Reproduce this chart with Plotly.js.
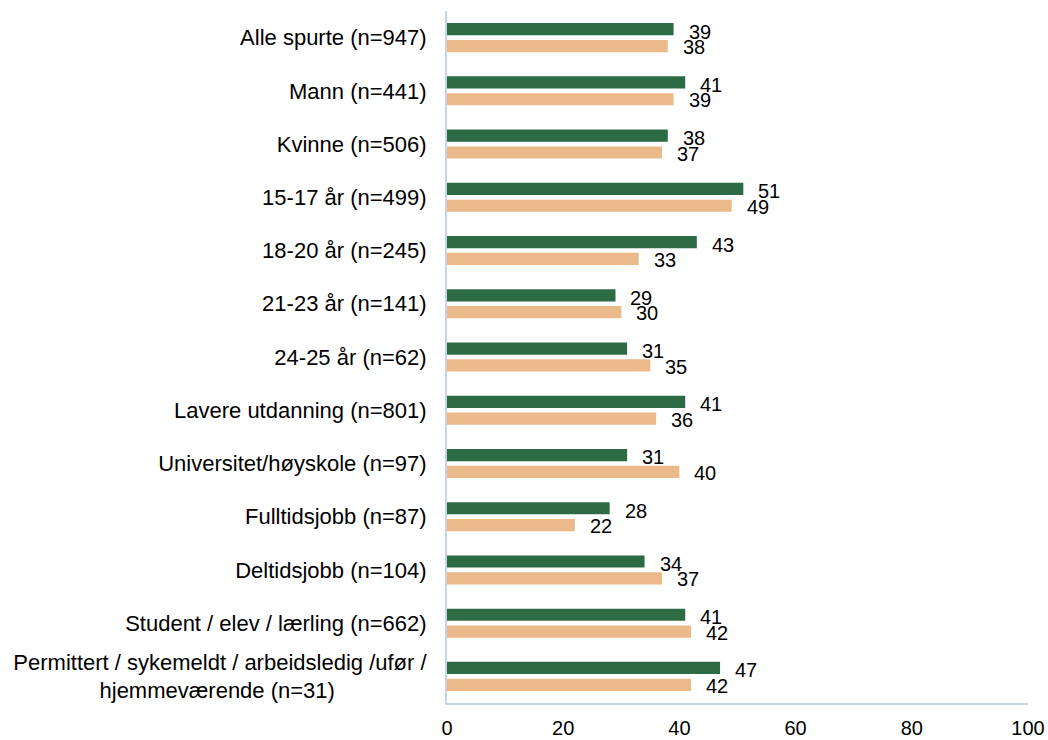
<!DOCTYPE html>
<html>
<head>
<meta charset="utf-8">
<script src="https://cdn.plot.ly/plotly-3.0.1.min.js"></script>
<style>html,body{margin:0;padding:0;background:#fff;}#chart{width:1048px;height:740px;}</style>
</head>
<body>
<div id="chart"></div>
<script>
const categories = [
  "Alle spurte (n=947)",
  "Mann (n=441)",
  "Kvinne (n=506)",
  "15-17 år (n=499)",
  "18-20 år (n=245)",
  "21-23 år (n=141)",
  "24-25 år (n=62)",
  "Lavere utdanning (n=801)",
  "Universitet/høyskole (n=97)",
  "Fulltidsjobb (n=87)",
  "Deltidsjobb (n=104)",
  "Student / elev / lærling (n=662)",
  "Permittert / sykemeldt / arbeidsledig /ufør /<br>hjemmeværende (n=31)" + "\u00A0".repeat(15)
];
const seriesGreen = [39, 41, 38, 51, 43, 29, 31, 41, 31, 28, 34, 41, 47];
const seriesTan   = [38, 39, 37, 49, 33, 30, 35, 36, 40, 22, 37, 42, 42];
const xTicks = [0, 20, 40, 60, 80, 100];

const green = '#2D6B44';
const tan = '#EBB98A';
const font = 'Liberation Sans, Arial, sans-serif';

const traces = [
  {type: 'bar', orientation: 'h', y: categories, x: seriesGreen, marker: {color: green}, name: 'A', hoverinfo: 'x'},
  {type: 'bar', orientation: 'h', y: categories, x: seriesTan, marker: {color: tan}, name: 'B', hoverinfo: 'x'}
];

const annotations = [];
categories.forEach((c, i) => {
  annotations.push({x: seriesGreen[i], y: c, xref: 'x', yref: 'y', text: String(seriesGreen[i]),
    showarrow: false, xanchor: 'left', yanchor: 'middle', xshift: 13, yshift: 6,
    font: {family: font, size: 20, color: '#000'}});
  annotations.push({x: seriesTan[i], y: c, xref: 'x', yref: 'y', text: String(seriesTan[i]),
    showarrow: false, xanchor: 'left', yanchor: 'middle', xshift: 13, yshift: -9.5,
    font: {family: font, size: 20, color: '#000'}});
});

const layout = {
  width: 1048, height: 740,
  margin: {l: 447, r: 20, t: 11, b: 37, pad: 0},
  paper_bgcolor: '#fff', plot_bgcolor: '#fff',
  showlegend: false,
  barmode: 'group', bargap: 0.367, bargroupgap: 0.276,
  font: {family: font, color: '#000'},
  xaxis: {range: [0, 100], tickvals: xTicks, ticktext: xTicks.map(String), showgrid: false, zeroline: false,
    showline: true, linecolor: '#C6D4E6', linewidth: 2, ticks: '', ticklabelstandoff: 6,
    tickfont: {family: font, size: 20, color: '#000'}, fixedrange: true},
  yaxis: {autorange: 'reversed', showgrid: false, zeroline: false, showline: true, linecolor: '#C6D4E6', linewidth: 2,
    ticks: '', ticklabelstandoff: 14, tickfont: {family: font, size: 22, color: '#000'}, fixedrange: true},
  annotations: annotations
};

Plotly.newPlot('chart', traces, layout, {displayModeBar: false, staticPlot: true});
</script>
</body>
</html>
